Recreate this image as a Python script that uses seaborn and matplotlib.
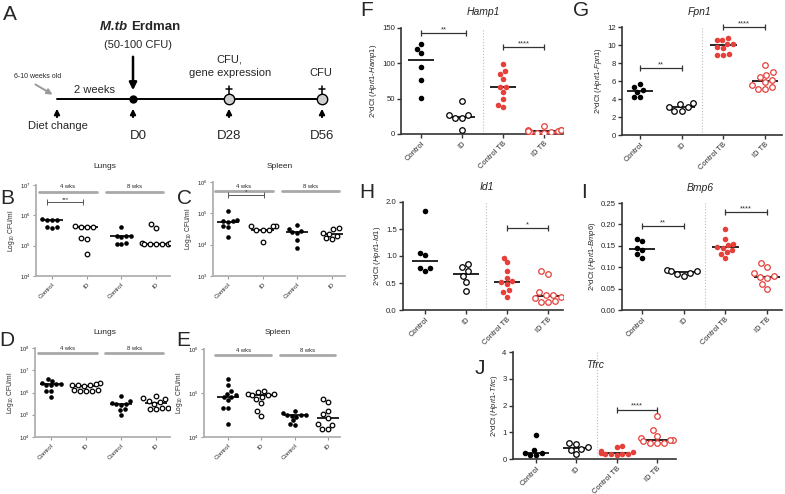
import numpy as np
import pandas as pd
import seaborn as sns
import matplotlib.pyplot as plt
from matplotlib import transforms

W, H = 785, 494

# ---- B-E: carga bacteriana (log10 CFU/ml), 4 y 8 semanas ----
cfu_grupos = ['ctl_4', 'id_4', 'ctl_8', 'id_8']
cfu_etiquetas = ['Control', 'ID', 'Control', 'ID']

b_ctl_4 = [5.85, 5.84, 5.84, 5.87, 5.60, 5.58, 5.62]
b_id_4 = [5.62, 5.60, 5.63, 5.66, 5.25, 5.22, 4.72]
b_ctl_8 = [5.62, 5.33, 5.31, 5.33, 5.30, 5.07, 5.06, 5.08]
b_id_8 = [5.70, 5.59, 5.10, 5.07, 5.05, 5.05, 5.07, 5.10, 5.04]

c_ctl_4 = [5.08, 4.78, 4.76, 4.74, 4.72, 4.60, 4.55, 4.25]
c_id_4 = [4.60, 4.60, 4.58, 4.48, 4.47, 4.46, 4.10]
c_ctl_8 = [4.62, 4.50, 4.45, 4.40, 4.38, 4.15, 3.90]
c_id_8 = [4.50, 4.52, 4.35, 4.38, 4.27, 4.20, 4.18]

d_ctl_4 = [6.62, 6.52, 6.42, 6.38, 6.38, 6.35, 6.32, 6.07, 6.05, 5.80]
d_id_4 = [6.42, 6.38, 6.35, 6.30, 6.32, 6.35, 6.12, 6.08, 6.05, 6.08, 6.10]
d_ctl_8 = [5.85, 5.60, 5.55, 5.50, 5.50, 5.45, 5.25, 5.20, 5.00]
d_id_8 = [5.85, 5.75, 5.70, 5.60, 5.58, 5.50, 5.30, 5.28, 5.25, 5.30]

e_ctl_4 = [5.31, 5.18, 5.05, 4.98, 4.95, 4.92, 4.90, 4.84, 4.67, 4.67, 4.29]
e_id_4 = [5.05, 5.02, 4.98, 4.98, 4.95, 4.95, 4.92, 4.86, 4.78, 4.58, 4.48]
e_ctl_8 = [4.58, 4.55, 4.51, 4.50, 4.50, 4.48, 4.46, 4.38, 4.30, 4.28]
e_id_8 = [4.86, 4.80, 4.60, 4.52, 4.44, 4.29, 4.28, 4.18, 4.18]

# ---- F-J: expresion genica 2^dCt ----
gen_grupos = ['Control', 'ID', 'Control TB', 'ID TB']

f_ctl = [127, 120, 114, 95, 76, 51]
f_id = [47, 27, 22, 22, 27, 6]
f_ctl_tb = [99, 89, 85, 78, 66, 66, 59, 50, 41, 38]
f_id_tb = [12, 6, 5, 4, 3, 3, 2, 2, 4, 5]

g_ctl = [5.65, 5.30, 5.00, 4.80, 4.25, 4.25]
g_id = [3.58, 3.43, 3.15, 3.10, 2.70, 2.70]
g_ctl_tb = [10.8, 10.6, 10.5, 10.15, 10.15, 9.7, 8.95, 8.85, 8.85, 9.8]
g_id_tb = [7.83, 7.0, 6.65, 6.4, 6.1, 5.9, 5.55, 5.3, 5.1, 5.15]

h_ctl = [1.84, 1.05, 1.02, 0.78, 0.78, 0.72]
h_id = [0.86, 0.80, 0.72, 0.63, 0.52, 0.35]
h_ctl_tb = [0.97, 0.88, 0.73, 0.60, 0.54, 0.51, 0.49, 0.37, 0.33, 0.25]
h_id_tb = [0.67, 0.72, 0.33, 0.27, 0.28, 0.24, 0.16, 0.15, 0.15, 0.22]

i_ctl = [0.166, 0.161, 0.145, 0.140, 0.130, 0.122]
i_id = [0.093, 0.091, 0.090, 0.087, 0.083, 0.079]
i_ctl_tb = [0.190, 0.165, 0.155, 0.152, 0.148, 0.145, 0.140, 0.135, 0.130, 0.121]
i_id_tb = [0.110, 0.100, 0.087, 0.079, 0.077, 0.074, 0.060, 0.048]

j_ctl = [0.88, 0.35, 0.22, 0.21, 0.15, 0.15]
j_id = [0.60, 0.57, 0.45, 0.38, 0.35, 0.18]
j_ctl_tb = [0.48, 0.43, 0.30, 0.25, 0.22, 0.20, 0.20, 0.18, 0.17, 0.15]
j_id_tb = [1.59, 1.07, 0.87, 0.78, 0.72, 0.67, 0.60, 0.58, 0.60, 0.72]

NEGRO = 'black'
ROJO = '#e5403a'
GRIS = '#9a9a9a'

sns.set_style('ticks')
plt.rcParams['font.family'] = ['Liberation Sans', 'DejaVu Sans']
plt.rcParams['mathtext.fontset'] = 'custom'
plt.rcParams['mathtext.rm'] = 'Liberation Sans'
plt.rcParams['mathtext.it'] = 'Liberation Sans:italic'
plt.rcParams['mathtext.bf'] = 'Liberation Sans:bold'

fig = plt.figure(figsize=(W / 100, H / 100), dpi=100)


def rect(x0, y0, x1, y1):
    return [x0 / W, 1 - y1 / H, (x1 - x0) / W, (y1 - y0) / H]


def ftxt(x, y, s, **kw):
    fig.text(x / W, 1 - y / H, s, **kw)


def puntos(ax, nombres, series, colores, huecos, tam, log=False):
    df = pd.DataFrame({
        'grupo': np.repeat(nombres, [len(s) for s in series]),
        'valor': np.concatenate([np.asarray(s, float) for s in series]),
    })
    if log:
        df['valor'] = 10 ** df['valor']
        ax.set_yscale('log')
    sns.boxplot(data=df, x='grupo', y='valor', order=nombres, ax=ax, width=0.64,
                showbox=False, showcaps=False, showfliers=False,
                whiskerprops={'visible': False},
                medianprops={'color': 'black', 'linewidth': 1.2})
    n_antes = len(ax.collections)
    for n, c in zip(nombres, colores):
        sns.swarmplot(data=df[df['grupo'] == n], x='grupo', y='valor', order=nombres,
                      color=c, size=tam, linewidth=0, ax=ax, zorder=3, warn_thresh=1)
    # circulos abiertos para los grupos ID (se aplica al final, tras todas las llamadas)
    for col in ax.collections[n_antes:]:
        off = np.ma.filled(np.ma.asarray(col.get_offsets(), dtype=float), np.nan)
        if off.size == 0 or np.all(np.isnan(off[:, 0])):
            continue
        k = int(round(float(np.nanmean(off[:, 0]))))
        if 0 <= k < len(huecos) and huecos[k]:
            col.set_facecolors('white')
            col.set_edgecolors(colores[k])
            col.set_linewidths(0.9)
    ax.set_xlabel('')
    ax.set_ylabel('')


def signif(ax, x0, x1, y, txt, fs=5.5, lw=0.9, color='#333333'):
    ax.plot([x0, x1], [y, y], color=color, lw=lw, marker='|', ms=5, mew=lw,
            clip_on=False, zorder=5)
    ax.text((x0 + x1) / 2, y, txt, ha='center', va='bottom', fontsize=fs, color='#333333')


# ---------------- Panel A: esquema ----------------
axA = fig.add_axes(rect(0, 0, 400, 145))
axA.set_xlim(0, 400)
axA.set_ylim(145, 0)
axA.axis('off')
axA.plot([57, 322], [99, 99], color='black', lw=1.4)
axA.plot(133, 99, 'o', color='black', ms=5)
for xc in (229, 322):
    axA.plot(xc, 99, 'o', mfc='#cfcfcf', mec='black', ms=7.5, mew=1)
    axA.plot([xc, xc], [86, 94], color='black', lw=1.1)
    axA.plot([xc - 3, xc + 3], [89, 89], color='black', lw=1.1)
for xc in (57, 133, 229, 322):
    axA.annotate('', xy=(xc, 106), xytext=(xc, 120),
                 arrowprops=dict(arrowstyle='-|>', color='black', lw=1.4, mutation_scale=8))
axA.annotate('', xy=(133, 93), xytext=(133, 54),
             arrowprops=dict(arrowstyle='-|>', color='black', lw=1.8, mutation_scale=11))
axA.annotate('', xy=(55, 96), xytext=(33, 83),
             arrowprops=dict(arrowstyle='-|>', color='#9a9a9a', lw=1.4, mutation_scale=8))
axA.text(38, 76, '6-10 weeks old', ha='center', va='center', fontsize=5)
axA.text(95, 90, '2 weeks', ha='center', va='center', fontsize=8)
axA.text(131, 27, 'M.tb ', ha='right', va='center', fontsize=9.5, fontweight='bold', fontstyle='italic')
axA.text(131, 27, 'Erdman', ha='left', va='center', fontsize=9.5, fontweight='bold')
axA.text(138, 45, '(50-100 CFU)', ha='center', va='center', fontsize=8)
axA.text(229, 60, 'CFU,', ha='center', va='center', fontsize=8)
axA.text(230, 73, 'gene expression', ha='center', va='center', fontsize=8)
axA.text(321, 73, 'CFU', ha='center', va='center', fontsize=8)
axA.text(58, 126, 'Diet change', ha='center', va='center', fontsize=8)
axA.text(138, 136, 'D0', ha='center', va='center', fontsize=9.5)
axA.text(229, 136, 'D28', ha='center', va='center', fontsize=9.5)
axA.text(322, 136, 'D56', ha='center', va='center', fontsize=9.5)

# ---------------- Panels B-E ----------------
paneles_cfu = [
    (rect(36, 185, 170, 276), [b_ctl_4, b_id_4, b_ctl_8, b_id_8], (1e4, 1e7), (-0.46, 3.4), 0.926),
    (rect(213, 182, 345, 276), [c_ctl_4, c_id_4, c_ctl_8, c_id_8], (1e3, 1e6), (-0.43, 3.38), 0.90),
    (rect(35, 348, 170, 437), [d_ctl_4, d_id_4, d_ctl_8, d_id_8], (1e4, 1e8), (-0.46, 3.4), 0.944),
    (rect(204, 349, 340, 437), [e_ctl_4, e_id_4, e_ctl_8, e_id_8], (1e4, 1e6), (-0.72, 3.36), 0.93),
]
ejes_cfu = []
for pos, series, ylim, xlim, ybar in paneles_cfu:
    ax = fig.add_axes(pos)
    puntos(ax, cfu_grupos, series, [NEGRO] * 4, [False, True, False, True], 3.3, log=True)
    ax.set_ylim(*ylim)
    ax.set_xlim(*xlim)
    dec = np.arange(np.log10(ylim[0]), np.log10(ylim[1]) + 1)
    ax.set_yticks(10 ** dec)
    ax.minorticks_off()
    ax.set_xticks(range(4))
    ax.set_xticklabels(cfu_etiquetas, rotation=45, ha='right', rotation_mode='anchor', fontsize=4.5)
    ax.tick_params(axis='y', labelsize=4.2, length=2.5, width=0.8, color=GRIS, pad=1.2)
    ax.tick_params(axis='x', length=2.5, width=0.8, color=GRIS, pad=1.5)
    for lado in ('top', 'right'):
        ax.spines[lado].set_visible(False)
    for lado in ('left', 'bottom'):
        ax.spines[lado].set_color('#b0b0b0')
        ax.spines[lado].set_linewidth(1.3)
    ax.set_ylabel(r'Log$_{10}$ CFU/ml', fontsize=4.8, labelpad=2)
    tr = transforms.blended_transform_factory(ax.transData, ax.transAxes)
    for (xa, xb), lab in (((-0.38, 1.3), '4 wks'), ((1.55, 3.2), '8 wks')):
        ax.plot([xa, xb], [ybar, ybar], color='#a8a8a8', lw=2, transform=tr, clip_on=False)
        ax.text((xa + xb) / 2, ybar + 0.025, lab, transform=tr, ha='center', va='bottom', fontsize=4.2)
    ejes_cfu.append(ax)

signif(ejes_cfu[0], -0.15, 0.9, 10 ** 6.45, '***', fs=4.5, lw=0.7, color='#555555')
signif(ejes_cfu[1], 0.0, 1.05, 10 ** 5.6, '*', fs=4.5, lw=0.7, color='#555555')

ftxt(105, 166, 'Lungs', ha='center', va='center', fontsize=6)
ftxt(280, 166, 'Spleen', ha='center', va='center', fontsize=6)
ftxt(105, 332, 'Lungs', ha='center', va='center', fontsize=6)
ftxt(278, 333, 'Spleen', ha='center', va='center', fontsize=6)

# ---------------- Panels F-J ----------------
paneles_gen = [
    (rect(401, 28, 563, 134), [f_ctl, f_id, f_ctl_tb, f_id_tb], (0, 150), [0, 50, 100, 150],
     (-0.49, 3.46), 'Hamp1', (483, 12), [(0, 1.1, 143, '**'), (2, 3, 123, '****')]),
    (rect(622, 27, 782, 135), [g_ctl, g_id, g_ctl_tb, g_id_tb], (0, 12), [0, 2, 4, 6, 8, 10, 12],
     (-0.43, 3.41), 'Fpn1', (700, 12), [(0, 1, 7.4, '**'), (2, 3, 12.0, '****')]),
    (rect(403, 202, 563, 310), [h_ctl, h_id, h_ctl_tb, h_id_tb], (0, 2), [0, 0.5, 1.0, 1.5, 2.0],
     (-0.54, 3.37), 'Id1', (487, 187), [(2, 3, 1.51, '*')]),
    (rect(622, 203, 782, 310), [i_ctl, i_id, i_ctl_tb, i_id_tb], (0, 0.25), [0, 0.05, 0.10, 0.15, 0.20, 0.25],
     (-0.48, 3.36), 'Bmp6', (700, 188), [(0, 1, 0.196, '**'), (2, 3, 0.229, '****')]),
    (rect(513, 352, 676, 459), [j_ctl, j_id, j_ctl_tb, j_id_tb], (0, 4), [0, 1, 2, 3, 4],
     (-0.57, 3.47), 'Tfrc', (595, 365), [(2, 3, 1.84, '****')]),
]
formatos = ['{:.0f}', '{:.0f}', '{:.1f}', '{:.2f}', '{:.0f}']
for (pos, series, ylim, yticks, xlim, gen, pos_tit, sigs), fmt in zip(paneles_gen, formatos):
    ax = fig.add_axes(pos)
    puntos(ax, gen_grupos, series, [NEGRO, NEGRO, ROJO, ROJO], [False, True, False, True], 4.0)
    ax.set_ylim(*ylim)
    ax.set_xlim(*xlim)
    ax.set_yticks(yticks)
    ax.set_yticklabels([fmt.format(t) for t in yticks])
    ax.set_xticks(range(4))
    ax.set_xticklabels(gen_grupos, rotation=45, ha='right', rotation_mode='anchor', fontsize=5.4)
    ax.tick_params(axis='y', labelsize=5.6, length=3, width=1, color='#333333', pad=1.5)
    ax.tick_params(axis='x', length=3, width=1, color='#333333', pad=1.2)
    for lado in ('top', 'right'):
        ax.spines[lado].set_visible(False)
    for lado in ('left', 'bottom'):
        ax.spines[lado].set_color('#333333')
        ax.spines[lado].set_linewidth(1.2)
    ax.axvline(1.5, color='#bdbdbd', ls=':', lw=0.8, zorder=0)
    ax.set_ylabel(r'2^dCt ($\mathit{Hprt1}$-$\mathit{' + gen + '}$)', fontsize=5.5, labelpad=2)
    ftxt(pos_tit[0], pos_tit[1], gen, ha='center', va='center', fontsize=7.5, fontstyle='italic')
    for x0, x1, y, txt in sigs:
        signif(ax, x0, x1, y, txt)

# ---------------- letras de panel ----------------
for letra, x, y in [('A', 10, 14), ('B', 7, 199), ('C', 184, 199), ('D', 7, 340), ('E', 183, 340),
                    ('F', 367, 11), ('G', 581, 11), ('H', 367, 193), ('I', 584, 192), ('J', 480, 368)]:
    ftxt(x, y, letra, ha='center', va='center', fontsize=15)

fig.savefig('out.png', dpi=100)
